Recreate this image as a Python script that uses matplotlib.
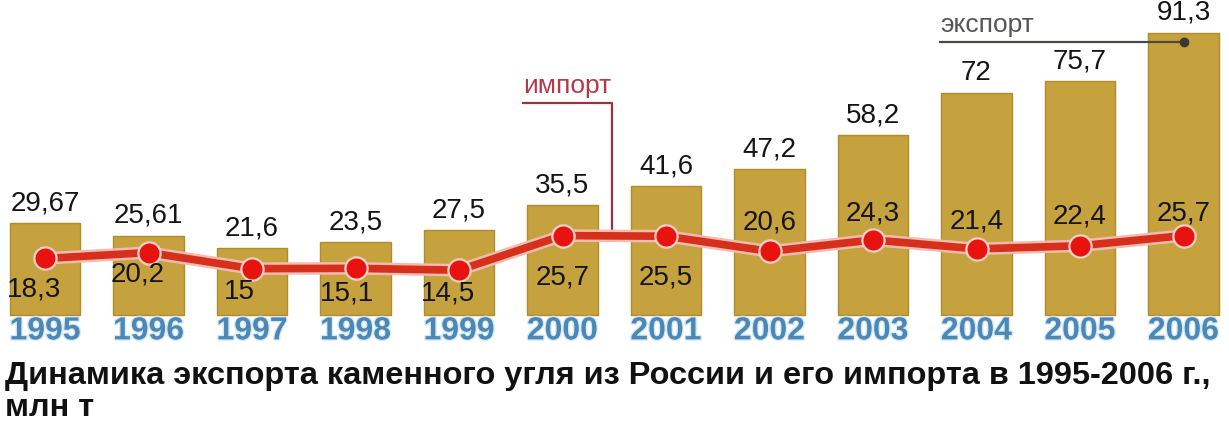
import matplotlib
matplotlib.use("Agg")
import matplotlib.pyplot as plt
import matplotlib.patheffects as pe

years = ["1995", "1996", "1997", "1998", "1999", "2000",
         "2001", "2002", "2003", "2004", "2005", "2006"]
export = [29.67, 25.61, 21.6, 23.5, 27.5, 35.5, 41.6, 47.2, 58.2, 72, 75.7, 91.3]
imports = [18.3, 20.2, 15, 15.1, 14.5, 25.7, 25.5, 20.6, 24.3, 21.4, 22.4, 25.7]
export_text = ["29,67", "25,61", "21,6", "23,5", "27,5", "35,5",
               "41,6", "47,2", "58,2", "72", "75,7", "91,3"]
import_text = ["18,3", "20,2", "15", "15,1", "14,5", "25,7",
               "25,5", "20,6", "24,3", "21,4", "22,4", "25,7"]
# label offsets for import values (points); below for early years, above later
import_off = [(-8, -22), (-8, -16), (-9, -17), (-6, -18), (-8, -17), (0, -30),
              (0, -30), (0, 21), (0, 19), (0, 20), (0, 21), (0, 16)]

W, H = 1229, 433
fig = plt.figure(figsize=(W / 100, H / 100), dpi=100)
ax = fig.add_axes([0, 0, 1, 1])
ax.set_axis_off()

px = 3.09          # pixels per unit
base = 315         # baseline pixel row from top
step = 103.5
x0 = 45
ax.set_xlim(-x0 / step, (W - x0) / step)
ax.set_ylim(-(H - base) / px, base / px)

sans = ["Liberation Sans", "DejaVu Sans"]

xs = list(range(len(years)))
ax.bar(xs, export, width=0.68, color="#c6a23e", edgecolor="#b08c2c",
       linewidth=1, zorder=1)

for x, v, t in zip(xs, export, export_text):
    ax.annotate(t, (x, v), xytext=(0, 5), textcoords="offset points",
                ha="center", va="bottom", fontsize=20,
                family=sans, color="#151515")

ax.plot(xs, imports, color="#d6301c", linewidth=5.5, zorder=3,
        path_effects=[pe.Stroke(linewidth=9, foreground="#f4bcb0"), pe.Normal()])
ax.plot(xs, imports, "o", markersize=16, markerfacecolor="#e8120e",
        markeredgecolor="#fbd0c8", markeredgewidth=1.6, zorder=4)

for x, v, t, off in zip(xs, imports, import_text, import_off):
    ax.annotate(t, (x, v), xytext=off, textcoords="offset points",
                ha="center", va="center", fontsize=20,
                family=sans, color="#151515", zorder=5)

for x, y in zip(xs, years):
    ax.text(x, -5.3, y, ha="center", va="center", fontsize=23,
            fontweight="bold", color="#4a88b8", family=sans,
            path_effects=[pe.withStroke(linewidth=2, foreground="#dbe9f3")])

# export callout
ex_y = (base - 42) / px
ax.plot([8.65, 11.0], [ex_y, ex_y], color="#4a4a40", linewidth=1.6, zorder=2)
ax.plot([11.0], [ex_y], "o", color="#3a3a30", markersize=6, zorder=2)
ax.text(8.65, ex_y + 1.5, "экспорт", ha="left", va="bottom", fontsize=19,
        family=sans, color="#555555")

# import callout
im_y = (base - 103) / px
ax.plot([4.62, 5.48, 5.48], [im_y, im_y, imports[5] + 0.3],
        color="#a0303c", linewidth=1.6, zorder=2)
ax.text(4.62, im_y + 1.5, "импорт", ha="left", va="bottom", fontsize=19,
        family=sans, color="#b23a46")

fig.text(5 / W, 1 - 376 / H,
         "Динамика экспорта каменного угля из России и его импорта в 1995-2006 г.,",
         ha="left", va="center", fontsize=23.4, fontweight="bold",
         family=sans, color="#111111")
fig.text(5 / W, 1 - 408 / H, "млн т", ha="left", va="center", fontsize=23.4,
         fontweight="bold", family=sans, color="#111111")

fig.savefig("out.png", dpi=100, facecolor="white")
